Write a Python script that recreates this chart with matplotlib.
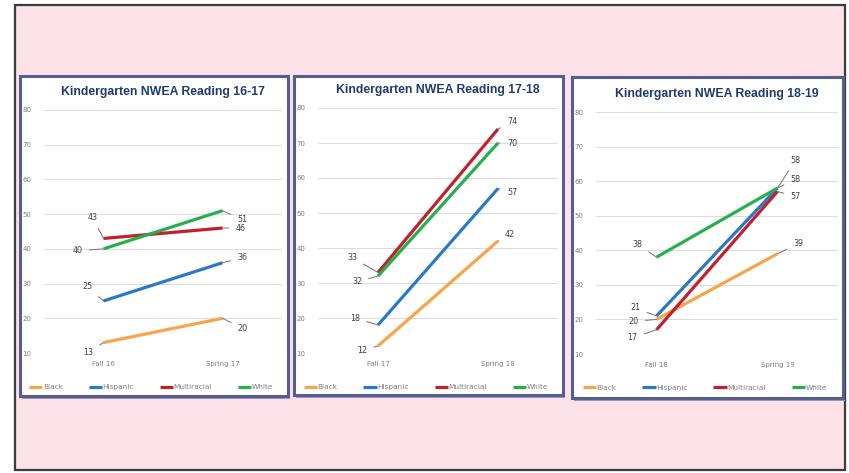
import matplotlib.pyplot as plt
from matplotlib.patches import Rectangle

# data
groups = ["Black", "Hispanic", "Multiracial", "White"]
titles = ["Kindergarten NWEA Reading 16-17",
          "Kindergarten NWEA Reading 17-18",
          "Kindergarten NWEA Reading 18-19"]
terms = [["Fall 16", "Spring 17"], ["Fall 17", "Spring 18"], ["Fall 18", "Spring 19"]]

black = [[13, 20], [12, 42], [20, 39]]
hispanic = [[25, 36], [18, 57], [21, 58]]
multiracial = [[43, 46], [33, 74], [17, 57]]
white = [[40, 51], [32, 70], [38, 58]]

colors = ["#F7A44A", "#2C78C8", "#C0222C", "#27AE4F"]

# label offsets in pixels (fall, spring) per group, per chart
label_offsets = [
    [[(-15, -10), (20, -10)], [(-16, 14), (20, 5)], [(-11, 21), (18, 0)], [(-26, -2), (20, -9)]],
    [[(-16, -4), (12, 7)], [(-23, 7), (14, -4)], [(-26, 15), (14, 7)], [(-21, -6), (14, 0)]],
    [[(-23, -2), (21, 10)], [(-21, 8), (18, 28)], [(-24, -8), (18, -5)], [(-19, 13), (18, 9)]],
]

W, H = 849, 473
fig = plt.figure(figsize=(W / 100, H / 100), dpi=100)


def fbox(x0, y0, x1, y1):
    # pixel box (top-left origin) -> figure coords
    return [x0 / W, 1 - y1 / H, (x1 - x0) / W, (y1 - y0) / H]


bx = fbox(15, 5, 845, 470)
fig.patches.append(Rectangle((bx[0], bx[1]), bx[2], bx[3], transform=fig.transFigure,
                             facecolor="#FCE1E9", edgecolor="#3C3C3C", lw=1.6, zorder=0))

panels = [(20, 76, 288, 396), (294, 76, 563, 395), (572, 77, 843, 398)]
plot_areas = [(44, 110, 282, 353), (318, 108, 558, 353), (596, 112, 838, 354)]

for i in range(3):
    p = fbox(*panels[i])
    # shadow then frame
    fig.patches.append(Rectangle((p[0] + 2 / W, p[1] - 3 / H), p[2], p[3], transform=fig.transFigure,
                                 facecolor="#9499B8", edgecolor="none", zorder=1))
    fig.patches.append(Rectangle((p[0], p[1]), p[2], p[3], transform=fig.transFigure,
                                 facecolor="white", edgecolor="#565E8E", lw=2.2, zorder=2))

    ax = fig.add_axes(fbox(*plot_areas[i]))
    ax.set_zorder(3)
    ax.patch.set_alpha(0)
    x = [0, 1]
    series = [black[i], hispanic[i], multiracial[i], white[i]]
    for g, vals, c, offs in zip(groups, series, colors, label_offsets[i]):
        ax.plot(x, vals, color=c, lw=2.3, label=g, solid_capstyle="butt", zorder=3)
        for xi, v, off in zip(x, vals, offs):
            ax.annotate(str(v), (xi, v), xytext=off, textcoords="offset pixels",
                        ha="center", va="center", fontsize=5.8, color="#404040",
                        arrowprops=dict(arrowstyle="-", color="#707070", lw=0.7,
                                        shrinkA=3, shrinkB=0), zorder=4)
    ax.set_xlim(-0.5, 1.5)
    ax.set_ylim(10, 80)
    ax.set_yticks(range(10, 81, 10))
    ax.set_xticks(x)
    ax.set_xticklabels(terms[i])
    ax.tick_params(length=0, labelsize=5, labelcolor="#7F7F7F", pad=9)
    ax.tick_params(axis="x", pad=6)
    ax.grid(axis="y", color="#DCDCDC", lw=0.8)
    ax.set_axisbelow(True)
    for s in ax.spines.values():
        s.set_visible(False)
    ax.set_title(titles[i], fontsize=8.8, fontweight="bold", color="#1F3A6E",
                 family="Liberation Sans", pad=11)
    ax.legend(loc="upper center", bbox_to_anchor=(0.45, -0.1), ncol=4, frameon=False,
              fontsize=5.3, labelcolor="#7F7F7F", handlelength=1.8, handletextpad=0.1,
              columnspacing=3.5)

fig.savefig("out.png", dpi=100, facecolor="white")
